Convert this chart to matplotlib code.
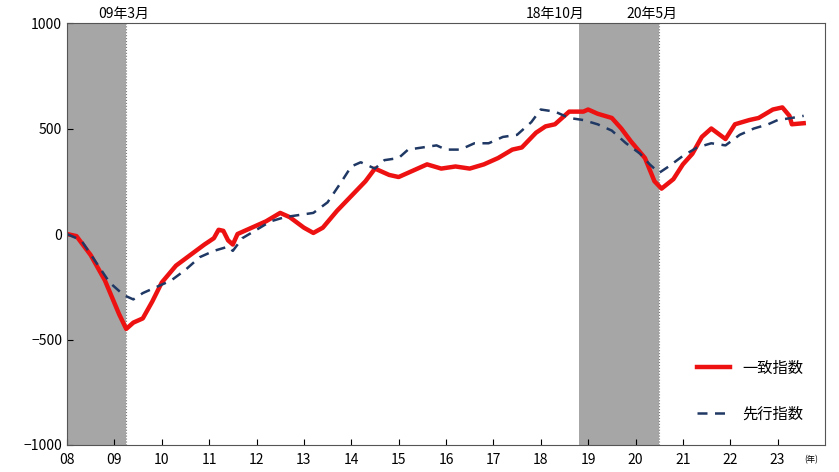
import matplotlib; matplotlib.use("Agg")
import matplotlib.pyplot as plt

plt.rcParams['font.family'] = ['Noto Sans CJK JP', 'DejaVu Sans']

# coincident index (red)
co_t = [2008.0, 2008.2, 2008.5, 2008.8, 2009.1, 2009.25, 2009.4, 2009.6, 2009.8, 2010.0,
        2010.3, 2010.6, 2010.9, 2011.1, 2011.2, 2011.3, 2011.4, 2011.5, 2011.6, 2011.9,
        2012.2, 2012.5, 2012.7, 2013.0, 2013.2, 2013.4, 2013.7, 2014.0, 2014.3, 2014.5,
        2014.8, 2015.0, 2015.3, 2015.6, 2015.9, 2016.2, 2016.5, 2016.8, 2017.1, 2017.4,
        2017.6, 2017.9, 2018.1, 2018.3, 2018.6, 2018.9, 2019.0, 2019.2, 2019.5, 2019.7,
        2019.9, 2020.2, 2020.4, 2020.55, 2020.8, 2021.0, 2021.2, 2021.4, 2021.6, 2021.9,
        2022.1, 2022.4, 2022.6, 2022.9, 2023.1, 2023.25, 2023.3, 2023.55]
co_v = [0, -10, -100, -220, -380, -450, -420, -400, -320, -230,
        -150, -100, -50, -20, 20, 15, -30, -50, 0, 30,
        60, 100, 80, 30, 5, 30, 110, 180, 250, 310,
        280, 270, 300, 330, 310, 320, 310, 330, 360, 400,
        410, 480, 510, 520, 580, 580, 590, 570, 550, 500,
        440, 360, 250, 215, 260, 330, 380, 460, 500, 450,
        520, 540, 550, 590, 600, 560, 520, 525]

# leading index (dashed)
ld_t = [2008.0, 2008.3, 2008.6, 2008.9, 2009.2, 2009.4, 2009.6, 2009.9, 2010.2, 2010.5,
        2010.8, 2011.1, 2011.4, 2011.5, 2011.7, 2012.0, 2012.3, 2012.6, 2012.9, 2013.2,
        2013.5, 2013.8, 2014.0, 2014.2, 2014.5, 2014.7, 2015.0, 2015.2, 2015.5, 2015.8,
        2016.0, 2016.3, 2016.6, 2016.9, 2017.2, 2017.5, 2017.8, 2018.0, 2018.3, 2018.6,
        2018.9, 2019.2, 2019.5, 2019.8, 2020.1, 2020.3, 2020.5, 2020.7, 2021.0, 2021.3,
        2021.6, 2021.9, 2022.2, 2022.5, 2022.8, 2023.0, 2023.3, 2023.55]
ld_v = [0, -30, -130, -230, -290, -310, -280, -250, -220, -170,
        -110, -80, -60, -80, -20, 20, 60, 80, 90, 100,
        150, 250, 320, 340, 310, 350, 360, 400, 410, 420,
        400, 400, 430, 430, 460, 470, 530, 590, 580, 550,
        540, 520, 490, 430, 380, 330, 290, 320, 370, 410,
        430, 420, 470, 500, 520, 540, 550, 560]

recessions = [(2008.0, 2009.25), (2018.8, 2020.5)]
years = list(range(2008, 2024))
year_labels = [f"{y % 100:02d}" for y in years]

fig = plt.figure(figsize=(8.39, 4.72), dpi=100)
ax = fig.add_axes([67/839, 1-445/472, (825-67)/839, (445-23)/472])
for a, b in recessions:
    ax.axvspan(a, b, color="#a6a6a6", lw=0)
    ax.axvline(b, color="#777777", lw=0.8, ls=":")
ax.plot(co_t, co_v, color="#ee1111", lw=3.2, label="一致指数")
ax.plot(ld_t, ld_v, color="#1f3864", lw=1.8, ls=(0, (4, 3)), label="先行指数")

ax.set_xlim(2008, 2024); ax.set_ylim(-1000, 1000)
ax.set_yticks([-1000, -500, 0, 500, 1000])
ax.set_xticks(years); ax.set_xticklabels(year_labels)
ax.tick_params(direction="in", labelsize=10, length=4)
ax.tick_params(axis="x", pad=6)
for s in ax.spines.values(): s.set_color("#555555")

ax.text(2009.2, 1010, "09年3月", ha="center", va="bottom", fontsize=10)
ax.text(2018.3, 1010, "18年10月", ha="center", va="bottom", fontsize=10)
ax.text(2020.35, 1010, "20年5月", ha="center", va="bottom", fontsize=10)
ax.text(2023.7, -1050, "(年)", ha="center", va="top", fontsize=6)

ax.legend(loc="lower right", bbox_to_anchor=(0.99, 0.02), frameon=False,
          fontsize=11, handlelength=2.2, labelspacing=1.9)
fig.savefig("out.png", dpi=100)
